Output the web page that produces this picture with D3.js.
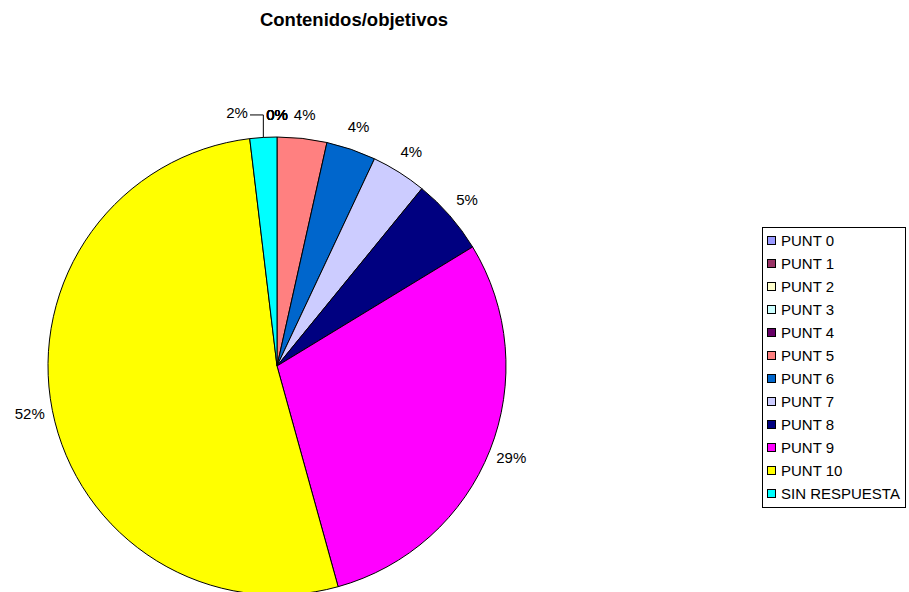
<!DOCTYPE html>
<html>
<head>
<meta charset="utf-8">
<script src="https://cdn.jsdelivr.net/npm/d3@7"></script>
<style>
  body { margin: 0; background: #fff; }
  text { font-family: "Liberation Sans", Arial, sans-serif; }
</style>
</head>
<body>
<div id="chart"></div>
<script>
// shares (%)
var categories = ['PUNT 0', 'PUNT 1', 'PUNT 2', 'PUNT 3', 'PUNT 4', 'PUNT 5',
                  'PUNT 6', 'PUNT 7', 'PUNT 8', 'PUNT 9', 'PUNT 10', 'SIN RESPUESTA'];
var shares = [0, 0, 0, 0, 0, 3.5, 3.5, 3.9, 5.4, 29.4, 52.4, 1.9];
var colors = ['#9999FF', '#993366', '#FFFFCC', '#CCFFFF', '#660066', '#FF8080',
              '#0066CC', '#CCCCFF', '#000080', '#FF00FF', '#FFFF00', '#00FFFF'];
var title = 'Contenidos/objetivos';

var width = 909, height = 592;
var cx = 277, cy = 366, radius = 229, labelR = 252;

document.addEventListener('DOMContentLoaded', function () {
  draw();
}, false);

function draw() {
  var data = categories.map(function(c, i){
    return {name: c, value: shares[i], color: colors[i]};
  });
  var total = d3.sum(shares);

  var svg = d3.select('#chart').append('svg')
    .attr('width', width)
    .attr('height', height);

  svg.append('text')
    .attr('x', 354).attr('y', 26)
    .attr('text-anchor', 'middle')
    .style('font-size', '18.5px')
    .style('font-weight', 'bold')
    .text(title);

  var pie = d3.pie().sort(null).value(function(d){ return d.value; });
  var arc = d3.arc().innerRadius(0).outerRadius(radius);
  var arcs = pie(data);

  var g = svg.append('g').attr('transform', 'translate(' + cx + ',' + cy + ')');

  g.selectAll('path')
    .data(arcs.filter(function(a){ return a.data.value > 0; }))
    .enter()
    .append('path')
    .attr('d', arc)
    .attr('fill', function(a){ return a.data.color; })
    .attr('stroke', '#000')
    .attr('stroke-width', 1);

  // label positions at mid angle
  var labels = arcs.map(function(a){
    var mid = (a.startAngle + a.endAngle) / 2;
    return {
      text: Math.round(a.data.value / total * 100) + '%',
      x: Math.sin(mid) * labelR,
      y: -Math.cos(mid) * labelR + 4,
      mid: mid,
      zero: a.data.value === 0,
      moved: 0
    };
  });

  // push labels that collide with the stacked zero labels to the side
  var zeros = labels.filter(function(l){ return l.zero; });
  if (zeros.length) {
    var zx = zeros[0].x;
    labels.forEach(function(l){
      if (l.zero) return;
      if (Math.abs(l.y - zeros[0].y) < 14 && Math.abs(l.x - zx) < 22) {
        var nx = l.x < zx ? zx - 40 : zx + 40;
        l.moved = nx - l.x;
        l.x = nx;
      }
    });
  }

  g.selectAll('text.lbl')
    .data(labels)
    .enter()
    .append('text')
    .attr('class', 'lbl')
    .attr('x', function(l){ return l.x; })
    .attr('y', function(l){ return l.zero ? l.y + 1.5 : l.y; })
    .attr('text-anchor', 'middle')
    .style('font-size', '15px')
    .style('fill', '#000')
    .text(function(l){ return l.text; });

  // leader line for labels moved away from their slice
  labels.forEach(function(l){
    if (l.moved !== 0) {
      var ex = Math.sin(l.mid) * radius, ey = -Math.cos(l.mid) * radius;
      var lx = l.moved < 0 ? l.x + 13 : l.x - 13;
      var ly = l.y - 3.5;
      g.append('polyline')
        .attr('points', [[lx, ly], [ex, ly], [ex, ey]].map(function(p){ return p.join(','); }).join(' '))
        .attr('fill', 'none')
        .attr('stroke', '#000')
        .attr('stroke-width', 1);
    }
  });

  // legend
  var lg = svg.append('g').attr('transform', 'translate(762,227)');
  lg.append('rect')
    .attr('x', 0.5).attr('y', 0.5)
    .attr('width', 143).attr('height', 280)
    .attr('fill', '#fff')
    .attr('stroke', '#000');

  var rows = lg.selectAll('g.item')
    .data(data)
    .enter()
    .append('g')
    .attr('class', 'item')
    .attr('transform', function(d, i){ return 'translate(0,' + (13 + i * 23) + ')'; });

  rows.append('rect')
    .attr('x', 5.5).attr('y', -3.5)
    .attr('width', 8).attr('height', 8)
    .attr('fill', function(d){ return d.color; })
    .attr('stroke', '#000');

  rows.append('text')
    .attr('x', 19).attr('y', 5.5)
    .style('font-size', '15px')
    .text(function(d){ return d.name; });
}
</script>
</body>
</html>
